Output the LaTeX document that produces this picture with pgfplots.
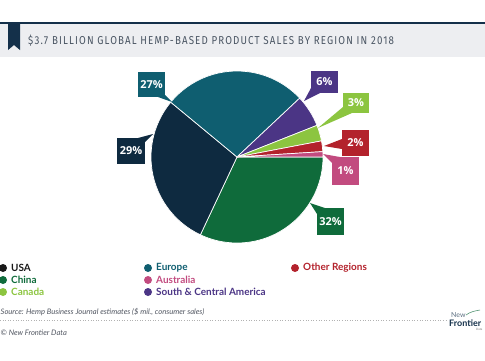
\documentclass[border=0pt]{standalone}
\usepackage{pgfplots}
\pgfplotsset{compat=1.18}
\usepackage{pgfplotstable}
\usepackage{fontspec}
\setmainfont{Open Sans}
\newfontfamily\titlefont{Fira Sans}[LetterSpace=10, FakeStretch=0.85]
\newfontfamily\legfont{Lato}
\definecolor{slice0}{HTML}{0F6B3B}% China
\definecolor{slice1}{HTML}{0E2A40}% USA
\definecolor{slice2}{HTML}{0F5E70}% Europe
\definecolor{slice3}{HTML}{4B3585}% S&C America
\definecolor{slice4}{HTML}{8CC540}% Canada
\definecolor{slice5}{HTML}{B3222C}% Other
\definecolor{slice6}{HTML}{C24B7F}% Australia
\definecolor{titlebg}{HTML}{EDEEF1}
\definecolor{titleline}{HTML}{14304A}
\definecolor{titletext}{HTML}{4A5563}
\definecolor{srctext}{HTML}{505560}
\pgfplotstableread{
region pct
China 32
USA 29
Europe 27
SCA 6
Canada 3
Other 2
Australia 1
}\piedata
\begin{document}
\begin{tikzpicture}[x=1bp,y=1bp]
\path[use as bounding box] (0,0) rectangle (485,360);
% title bar
\fill[titlebg] (0,303) rectangle (485,337);
\fill[titleline] (0,336) rectangle (485,337.8);
\fill[titleline] (8,337) -- (20,337) -- (20,310) -- (14,315) -- (8,310) -- cycle;
\node[anchor=west, text=titletext, font=\titlefont\fontsize{11.5}{13}\selectfont, inner sep=0] at (28,319) {\$3.7 BILLION GLOBAL HEMP-BASED PRODUCT SALES BY REGION IN 2018};

\begin{axis}[at={(151bp,117bp)}, anchor=south west, width=172bp, height=172bp, scale only axis,
  xmin=-1, xmax=1, ymin=-1, ymax=1, hide axis, clip=false]
\def\cum{0}
\pgfplotsforeachungrouped \i in {0,...,6}{%
  \pgfplotstablegetelem{\i}{pct}\of\piedata
  \let\p=\pgfplotsretval
  \pgfmathsetmacro\a{-\cum*3.6}%
  \pgfmathsetmacro\b{-(\cum+\p)*3.6}%
  \pgfmathsetmacro\ca{cos(\a)}%
  \pgfmathsetmacro\sa{sin(\a)}%
  \edef\cmd{\noexpand\fill[fill=slice\i, draw=white, line width=0.7pt, line join=round] (axis cs:0,0) -- (axis cs:\ca,\sa) arc[start angle=\a, end angle=\b, radius=86bp] -- cycle;}%
  \cmd
  \pgfmathsetmacro\cum{\cum+\p}%
}
\end{axis}

% callouts
\tikzset{lbl/.style={text=white, font=\fontsize{11}{13}\selectfont\bfseries, inner sep=0}}
% 27%
\fill[slice2] (138,288) rectangle (165,263);
\fill[slice2] (158,263) -- (165,265) -- (172,258) -- cycle;
\node[lbl] at (151.5,275.5) {27\%};
% 29%
\fill[slice1] (117,222) rectangle (145,196);
\fill[slice1] (138,222) -- (145,218) -- (153,226) -- cycle;
\node[lbl] at (131,209) {29\%};
% 6%
\fill[slice3] (311,289) rectangle (338,267);
\fill[slice3] (311,272) -- (320,267) -- (304,259) -- cycle;
\node[lbl] at (324.5,278) {6\%};
% 3%
\fill[slice4] (343,267) rectangle (369,247);
\fill[slice4] (343,253) -- (352,247) -- (318,232) -- cycle;
\node[lbl] at (356,257) {3\%};
% 2%
\fill[slice5] (342,230) rectangle (369,204);
\fill[slice5] (342,221) -- (342,211) -- (324,214) -- cycle;
\node[lbl] at (355.5,217) {2\%};
% 1%
\fill[slice6] (332,203) rectangle (359,175);
\fill[slice6] (332,197) -- (340,203) -- (323,206) -- cycle;
\node[lbl] at (345.5,189) {1\%};
% 32%
\fill[slice0] (317,152) rectangle (344,125);
\fill[slice0] (317,146) -- (325,152) -- (310,157) -- cycle;
\node[lbl] at (330.5,138.5) {32\%};

% legend
\tikzset{leg/.style={anchor=west, inner sep=0, font=\legfont\bfseries\fontsize{10}{11}\selectfont}}
\fill[black!90] (3,92) circle (4);   \node[leg, text=black!90] at (11,92) {USA};
\fill[slice0] (3,80) circle (4);     \node[leg, text=slice0] at (11,80) {China};
\fill[slice4] (3,68) circle (4);     \node[leg, text=slice4] at (11,68) {Canada};
\fill[slice2] (148,92) circle (4);   \node[leg, text=slice2] at (156,92) {Europe};
\fill[slice6] (148,80) circle (4);   \node[leg, text=slice6] at (156,80) {Australia};
\fill[slice3] (148,68) circle (4);   \node[leg, text=slice3] at (156,68) {South \& Central America};
\fill[slice5] (295,92) circle (4);   \node[leg, text=slice5] at (303,92) {Other Regions};

% source & footer
\node[anchor=west, inner sep=0, text=srctext, font=\legfont\itshape\fontsize{7.6}{9}\selectfont] at (0.5,48) {Source: Hemp Business Journal estimates (\$ mil., consumer sales)};
\draw[gray!60, dotted, line width=0.6pt] (0,40) -- (447,40);
\node[anchor=west, inner sep=0, text=srctext, font=\legfont\itshape\fontsize{7.6}{9}\selectfont] at (0.5,27) {\textcopyright\ New Frontier Data};
% logo
\node[anchor=west, inner sep=0, text=titleline!70, font=\legfont\fontsize{7}{8}\selectfont] at (451,45) {New};
\draw[slice0!70, line width=0.6pt] (466,45) .. controls (470,48) and (474,49) .. (480,50);
\node[anchor=west, inner sep=0, text=titleline, font=\legfont\bfseries\fontsize{9}{10}\selectfont] at (449,37) {Frontier};
\node[anchor=west, inner sep=0, text=gray, font=\legfont\fontsize{3}{4}\selectfont] at (476,31) {Data};
\end{tikzpicture}
\end{document}
